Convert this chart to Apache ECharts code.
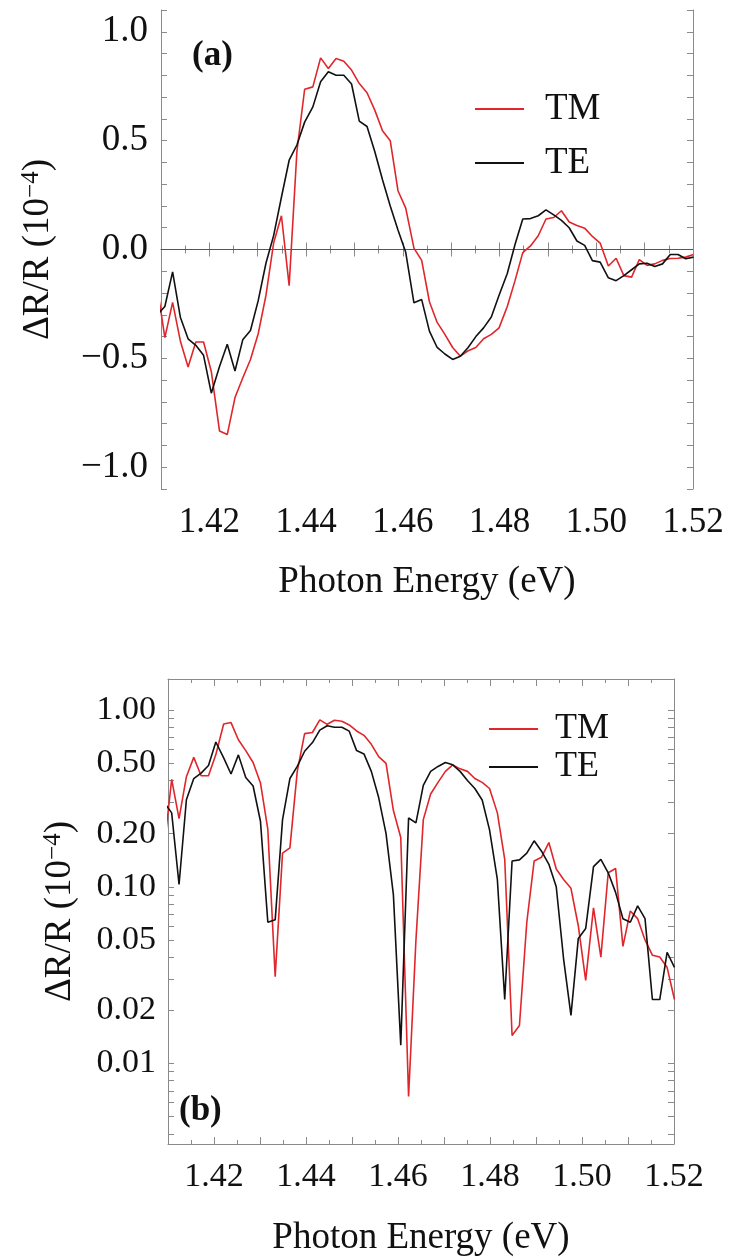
<!DOCTYPE html>
<html>
<head>
<meta charset="utf-8">
<script src="https://cdn.jsdelivr.net/npm/echarts@6/dist/echarts.min.js"></script>
<style>
  html, body { margin: 0; padding: 0; background: #fff; }
  #chart { width: 730px; height: 1258px; }
</style>
</head>
<body>
<div id="chart"></div>
<script>
// Photon energy of each measured point (eV)
const energy = [
  1.4092, 1.4108, 1.4124, 1.4140, 1.4156, 1.4172, 1.4188, 1.4204, 1.4221, 1.4237,
  1.4253, 1.4269, 1.4285, 1.4301, 1.4317, 1.4333, 1.4349, 1.4365, 1.4381, 1.4397,
  1.4414, 1.4430, 1.4446, 1.4462, 1.4478, 1.4494, 1.4510, 1.4526, 1.4542, 1.4558,
  1.4574, 1.4590, 1.4606, 1.4623, 1.4639, 1.4655, 1.4671, 1.4687, 1.4703, 1.4719,
  1.4735, 1.4751, 1.4767, 1.4783, 1.4799, 1.4816, 1.4832, 1.4848, 1.4864, 1.4880,
  1.4896, 1.4912, 1.4928, 1.4944, 1.4960, 1.4976, 1.4992, 1.5008, 1.5025, 1.5041,
  1.5057, 1.5073, 1.5089, 1.5105, 1.5121, 1.5137, 1.5153, 1.5169, 1.5185, 1.5201
];

// ΔR/R in units of 1e-4, TM polarisation
const tmSignal = [
  -0.17, -0.405, -0.243, -0.42, -0.54, -0.425, -0.425, -0.56, -0.834, -0.85,
  -0.68, -0.59, -0.505, -0.387, -0.211, 0.031, 0.155, -0.166, 0.45, 0.736,
  0.747, 0.88, 0.831, 0.877, 0.865, 0.824, 0.762, 0.72, 0.64, 0.545,
  0.50, 0.27, 0.19, 0.0065, -0.05, -0.24, -0.335, -0.39, -0.45, -0.49,
  -0.465, -0.45, -0.41, -0.39, -0.36, -0.262, -0.143, -0.0144, 0.0164, 0.063,
  0.14, 0.147, 0.178, 0.126, 0.11, 0.098, 0.06, 0.0295, -0.076, -0.040,
  -0.12, -0.127, -0.046, -0.073, -0.066, -0.05, -0.041, -0.04, -0.035, -0.023
];

// ΔR/R in units of 1e-4, TE polarisation
const teSignal = [
  -0.30, -0.262, -0.103, -0.311, -0.41, -0.44, -0.486, -0.66, -0.537, -0.435,
  -0.558, -0.415, -0.372, -0.235, -0.063, 0.065, 0.24, 0.41, 0.48, 0.585,
  0.655, 0.77, 0.816, 0.80, 0.80, 0.76, 0.59, 0.565, 0.45, 0.32,
  0.20, 0.09, -0.0127, -0.245, -0.23, -0.375, -0.45, -0.48, -0.505, -0.49,
  -0.45, -0.40, -0.36, -0.31, -0.21, -0.11, 0.023, 0.14, 0.142, 0.155,
  0.182, 0.159, 0.134, 0.10, 0.039, 0.0187, -0.051, -0.058, -0.13, -0.143,
  -0.12, -0.093, -0.066, -0.063, -0.078, -0.066, -0.023, -0.023, -0.0426, -0.035
];

// Labelled tick values
const energyTickLabels = [1.42, 1.44, 1.46, 1.48, 1.50, 1.52];
const linearTickLabels = [-1.0, -0.5, 0.0, 0.5, 1.0];
const logTickLabels = [0.01, 0.02, 0.05, 0.1, 0.2, 0.5, 1.0];
const logMinorTicks = [0.004, 0.005, 0.006, 0.007, 0.008, 0.009,
  0.03, 0.04, 0.06, 0.07, 0.08, 0.09, 0.3, 0.4, 0.6, 0.7, 0.8, 0.9];

const SERIF = 'Liberation Serif';
const RED = '#e0262b';
const BLACK = '#111111';
const FRAME = '#8a8a8a';

const isLabelled = (v, list) => list.some(t => Math.abs(t - v) < 1e-7);
const minus = s => s.replace('-', '\u2212');

const pair = arr => energy.map((e, i) => [e, arr[i]]);
const magnitude = arr => energy.map((e, i) => [e, Math.abs(arr[i])]);

function energyAxis(grid, pos, withLabels) {
  return {
    type: 'value', gridIndex: grid, position: pos,
    min: 1.41, max: 1.52, interval: 0.01,
    axisLine: { show: true, lineStyle: { color: FRAME, width: 1 } },
    axisTick: { show: true, inside: true, length: 7, lineStyle: { color: FRAME } },
    minorTick: { show: true, splitNumber: 2, length: 4, lineStyle: { color: FRAME } },
    splitLine: { show: false }, minorSplitLine: { show: false },
    axisLabel: withLabels ? {
      show: true, margin: 16, color: '#111', fontFamily: SERIF, fontSize: grid === 0 ? 35 : 34,
      formatter: v => isLabelled(v, energyTickLabels) ? v.toFixed(2) : ''
    } : { show: false },
    name: withLabels ? 'Photon Energy (eV)' : '',
    nameLocation: 'middle', nameGap: grid === 0 ? 75 : 76,
    nameTextStyle: { fontFamily: SERIF, fontSize: 37, color: '#111' }
  };
}

function linearAxis(pos, withLabels) {
  return {
    type: 'value', gridIndex: 0, position: pos,
    min: -1.1, max: 1.1, interval: 0.1,
    axisLine: { show: true, lineStyle: { color: FRAME, width: 1 } },
    axisTick: { show: true, inside: true, length: 6, lineStyle: { color: FRAME } },
    splitLine: { show: false },
    axisLabel: withLabels ? {
      show: true, margin: 13, color: '#111', fontFamily: SERIF, fontSize: 37,
      formatter: v => isLabelled(v, linearTickLabels) ? minus(v.toFixed(1)) : ''
    } : { show: false },
    name: withLabels ? 'ΔR/R (10{sup|\u22124})' : '',
    nameLocation: 'middle', nameGap: 103,
    nameTextStyle: {
      fontFamily: SERIF, fontSize: 37, color: '#111',
      rich: { sup: { fontFamily: SERIF, fontSize: 25, color: '#111', verticalAlign: 'top', padding: [0, 0, 14, 0] } }
    }
  };
}

function logAxis(pos, withLabels) {
  return {
    type: 'log', logBase: 10, gridIndex: 1, position: pos,
    min: 0.0035, max: 1.5,
    axisLine: { show: true, lineStyle: { color: FRAME, width: 1 } },
    axisTick: { show: true, inside: true, length: 6, lineStyle: { color: FRAME },
      customValues: logTickLabels.concat(logMinorTicks) },
    minorTick: { show: false },
    splitLine: { show: false },
    axisLabel: withLabels ? {
      show: true, margin: 12, color: '#111', fontFamily: SERIF, fontSize: 34,
      customValues: logTickLabels,
      formatter: v => v.toFixed(2)
    } : { show: false },
    name: withLabels ? 'ΔR/R (10{sup|\u22124})' : '',
    nameLocation: 'middle', nameGap: 88,
    nameTextStyle: {
      fontFamily: SERIF, fontSize: 37, color: '#111',
      rich: { sup: { fontFamily: SERIF, fontSize: 25, color: '#111', verticalAlign: 'top', padding: [0, 0, 14, 0] } }
    }
  };
}

function trace(name, color, data, xi, yi, extra) {
  return Object.assign({
    name, type: 'line', xAxisIndex: xi, yAxisIndex: yi, data,
    color, symbol: 'none', showSymbol: false, clip: true,
    lineStyle: { color, width: 1.6 }, z: 3
  }, extra || {});
}

function legendBlock(left, top, size, lineHeight, gap, pad) {
  return {
    orient: 'vertical', left, top, padding: 0, data: ['TM', 'TE'],
    icon: 'rect', itemWidth: 49, itemHeight: 2, itemGap: gap,
    selectedMode: false,
    textStyle: { fontFamily: SERIF, fontSize: size, color: '#111', lineHeight, padding: [0, 0, 0, pad] }
  };
}

const chart = echarts.init(document.getElementById('chart'), null, { renderer: 'canvas' });
chart.setOption({
  animation: false,
  backgroundColor: '#ffffff',
  title: [
    { text: '(a)', left: 192, top: 38, padding: 0, textStyle: { fontFamily: SERIF, fontWeight: 'bold', fontSize: 35, color: '#111' } },
    { text: '(b)', left: 179, top: 1093, padding: 0, textStyle: { fontFamily: SERIF, fontWeight: 'bold', fontSize: 35, color: '#111' } }
  ],
  legend: [
    legendBlock(475, 89, 37, 40, 14, 16),
    legendBlock(489, 711, 36, 36, 2, 12)
  ],
  grid: [
    { left: 161, top: 10, width: 532, height: 479 },
    { left: 168, top: 679, width: 506, height: 467 }
  ],
  xAxis: [
    energyAxis(0, 'bottom', true), energyAxis(0, 'top', false),
    energyAxis(1, 'bottom', true), energyAxis(1, 'top', false)
  ],
  yAxis: [
    linearAxis('left', true), linearAxis('right', false),
    logAxis('left', true), logAxis('right', false)
  ],
  series: [
    trace('TM', RED, pair(tmSignal), 0, 0, {
      markLine: {
        silent: true, symbol: 'none', label: { show: false },
        lineStyle: { color: '#555', width: 1, type: 'solid' },
        data: [{ yAxis: 0 }], z: 1
      }
    }),
    trace('TE', BLACK, pair(teSignal), 0, 0),
    trace('TM', RED, magnitude(tmSignal), 2, 2),
    trace('TE', BLACK, magnitude(teSignal), 2, 2)
  ]
});
</script>
</body>
</html>
